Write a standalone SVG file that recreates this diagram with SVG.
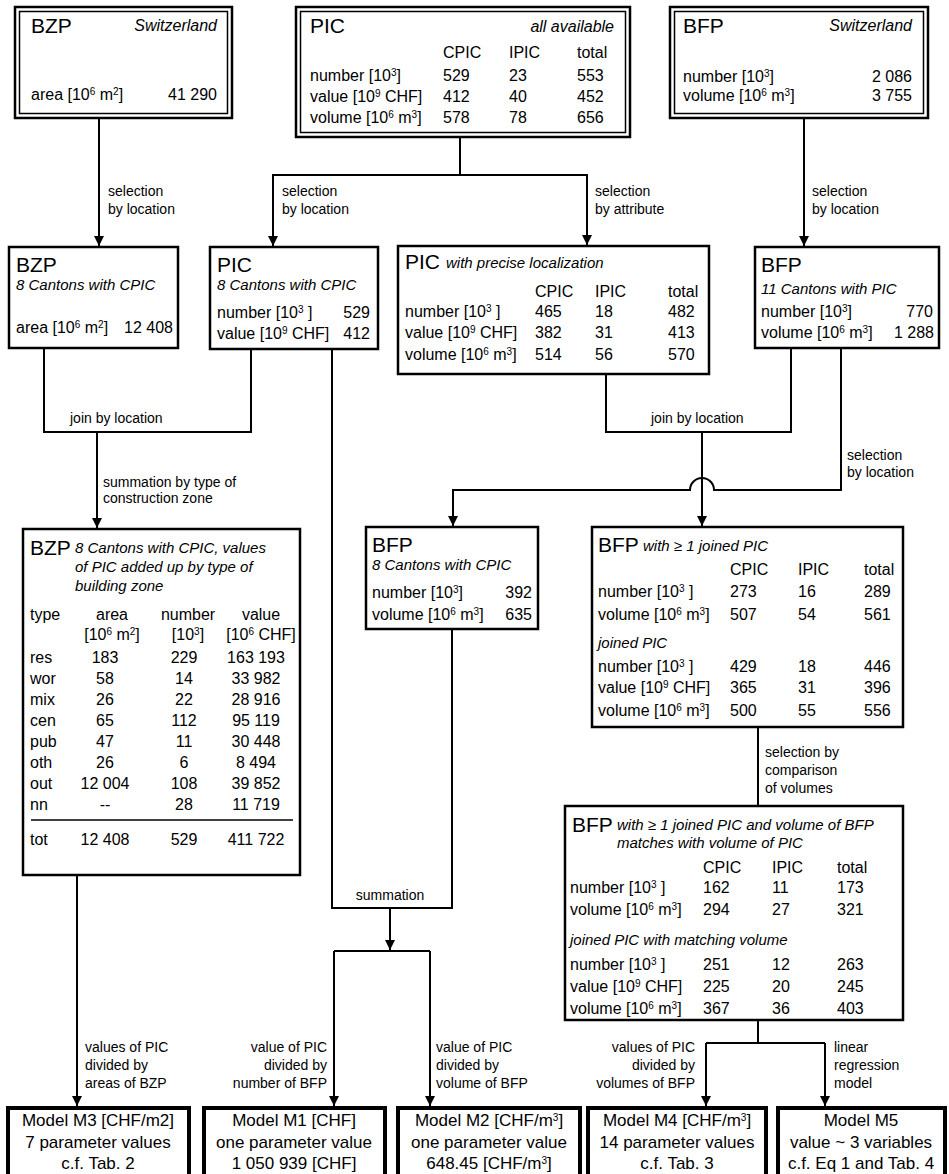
<svg xmlns="http://www.w3.org/2000/svg" width="949" height="1174" viewBox="0 0 949 1174">
<defs>
<style>
text{font-family:"Liberation Sans",Arial,sans-serif;fill:#000}
.b{font-size:16px}
.t{font-size:21px}
.i{font-size:15px;font-style:italic}
.i2{font-size:16px;font-style:italic}
.l{font-size:14px}
.m{font-size:17px;text-anchor:middle}
.e{text-anchor:end}
.c{text-anchor:middle}
.s{font-size:10px;baseline-shift:super}
.box{fill:#fff;stroke:#000;stroke-width:2.5}
.dbl{fill:none;stroke:#000;stroke-width:1.5}
.mb{fill:#fff;stroke:#000;stroke-width:4}
.w{fill:none;stroke:#000;stroke-width:2}
</style>
<marker id="ah" viewBox="0 0 10 10" refX="10" refY="5" markerWidth="10" markerHeight="10" markerUnits="userSpaceOnUse" orient="auto"><path d="M0,0 L10,5 L0,10 z" fill="#000"/></marker>
</defs>
<rect width="949" height="1174" fill="#fff"/>

<g id="connectors">
<path class="w" d="M99,118 V246" marker-end="url(#ah)"/>
<path class="w" d="M460,137 V175 H273 V246" marker-end="url(#ah)"/>
<path class="w" d="M460,175 H587 V245" marker-end="url(#ah)"/>
<path class="w" d="M804,118 V246" marker-end="url(#ah)"/>
<path class="w" d="M44,348 V432 H251 V349"/>
<path class="w" d="M97,432 V528" marker-end="url(#ah)"/>
<path class="w" d="M606,374 V432 H791 V348"/>
<path class="w" d="M702,432 V526" marker-end="url(#ah)"/>
<path class="w" d="M841,348 V490 H714 A12,12 0 0 0 690,490 H453 V526" marker-end="url(#ah)"/>
<path class="w" d="M332,349 V908 H452 V629"/>
<path class="w" d="M390,908 V950" marker-end="url(#ah)"/>
<path class="w" d="M334,951 H430"/>
<path class="w" d="M334,951 V1106" marker-end="url(#ah)"/>
<path class="w" d="M430,951 V1106" marker-end="url(#ah)"/>
<path class="w" d="M77,875 V1106" marker-end="url(#ah)"/>
<path class="w" d="M758,727 V806"/>
<path class="w" d="M758,1020 V1043"/>
<path class="w" d="M706,1043 H825"/>
<path class="w" d="M706,1043 V1106" marker-end="url(#ah)"/>
<path class="w" d="M825,1043 V1106" marker-end="url(#ah)"/>

<text class="l" x="108" y="196">selection</text>
<text class="l" x="108" y="214">by location</text>
<text class="l" x="282" y="196">selection</text>
<text class="l" x="282" y="214">by location</text>
<text class="l" x="595" y="196">selection</text>
<text class="l" x="595" y="214">by attribute</text>
<text class="l" x="812" y="196">selection</text>
<text class="l" x="812" y="214">by location</text>
<text class="l" x="70" y="423">join by location</text>
<text class="l" x="651" y="423">join by location</text>
<text class="l" x="103" y="487">summation by type of</text>
<text class="l" x="103" y="503">construction zone</text>
<text class="l" x="847" y="460">selection</text>
<text class="l" x="847" y="477">by location</text>
<text class="l" x="765" y="757">selection by</text>
<text class="l" x="765" y="775">comparison</text>
<text class="l" x="765" y="793">of volumes</text>
<text class="l c" x="390" y="900">summation</text>
<text class="l" x="85" y="1052">values of PIC</text>
<text class="l" x="85" y="1070">divided by</text>
<text class="l" x="85" y="1088">areas of BZP</text>
<text class="l e" x="327" y="1052">value of PIC</text>
<text class="l e" x="327" y="1070">divided by</text>
<text class="l e" x="327" y="1088">number of BFP</text>
<text class="l" x="436" y="1052">value of PIC</text>
<text class="l" x="436" y="1070">divided by</text>
<text class="l" x="436" y="1088">volume of BFP</text>
<text class="l e" x="695" y="1052">values of PIC</text>
<text class="l e" x="695" y="1070">divided by</text>
<text class="l e" x="695" y="1088">volumes of BFP</text>
<text class="l" x="834" y="1052">linear</text>
<text class="l" x="834" y="1070">regression</text>
<text class="l" x="834" y="1088">model</text>
</g>

<g id="bzp-switzerland">
<rect class="box" x="15" y="7" width="217" height="111"/>
<rect class="dbl" x="19.5" y="11.5" width="208" height="102"/>
<text class="t" x="31" y="33">BZP</text>
<text class="i2 e" x="217" y="31">Switzerland</text>
<text class="b" x="31" y="100">area [10<tspan class="s">6</tspan> m<tspan class="s">2</tspan>]</text>
<text class="b e" x="217" y="100">41 290</text>
</g>

<g id="pic-all">
<rect class="box" x="296" y="7" width="334" height="130"/>
<rect class="dbl" x="300.5" y="11.5" width="325" height="121"/>
<text class="t" x="310" y="33">PIC</text>
<text class="i2 e" x="614" y="32">all available</text>
<text class="b" x="443" y="58">CPIC</text><text class="b" x="509" y="58">IPIC</text><text class="b" x="577" y="58">total</text>
<text class="b" x="310" y="81">number [10<tspan class="s">3</tspan>]</text>
<text class="b" x="443" y="81">529</text><text class="b" x="509" y="81">23</text><text class="b" x="577" y="81">553</text>
<text class="b" x="310" y="102">value [10<tspan class="s">9</tspan> CHF]</text>
<text class="b" x="443" y="102">412</text><text class="b" x="509" y="102">40</text><text class="b" x="577" y="102">452</text>
<text class="b" x="310" y="123">volume [10<tspan class="s">6</tspan> m<tspan class="s">3</tspan>]</text>
<text class="b" x="443" y="123">578</text><text class="b" x="509" y="123">78</text><text class="b" x="577" y="123">656</text>
</g>

<g id="bfp-switzerland">
<rect class="box" x="670" y="7" width="258" height="111"/>
<rect class="dbl" x="674.5" y="11.5" width="249" height="102"/>
<text class="t" x="683" y="33">BFP</text>
<text class="i2 e" x="912" y="31">Switzerland</text>
<text class="b" x="683" y="82">number [10<tspan class="s">3</tspan>]</text>
<text class="b e" x="912" y="82">2 086</text>
<text class="b" x="683" y="101">volume [10<tspan class="s">6</tspan> m<tspan class="s">3</tspan>]</text>
<text class="b e" x="912" y="101">3 755</text>
</g>

<g id="bzp-8cantons">
<rect class="box" x="9" y="247" width="169" height="101"/>
<text class="t" x="16" y="272">BZP</text>
<text class="i" x="16" y="290">8 Cantons with  CPIC</text>
<text class="b" x="16" y="333">area [10<tspan class="s">6</tspan> m<tspan class="s">2</tspan>]</text>
<text class="b e" x="173" y="333">12 408</text>
</g>

<g id="pic-8cantons">
<rect class="box" x="210" y="247" width="168" height="102"/>
<text class="t" x="217" y="272">PIC</text>
<text class="i" x="217" y="290">8 Cantons with  CPIC</text>
<text class="b" x="217" y="318">number [10<tspan class="s">3</tspan> ]</text>
<text class="b e" x="370" y="318">529</text>
<text class="b" x="217" y="339">value [10<tspan class="s">9</tspan> CHF]</text>
<text class="b e" x="370" y="339">412</text>
</g>

<g id="pic-precise">
<rect class="box" x="398" y="246" width="311" height="128"/>
<text class="t" x="405" y="269">PIC</text>
<text class="i" x="446" y="268">with precise  localization</text>
<text class="b" x="535" y="297">CPIC</text><text class="b" x="595" y="297">IPIC</text><text class="b" x="668" y="297">total</text>
<text class="b" x="405" y="317">number [10<tspan class="s">3</tspan> ]</text>
<text class="b" x="535" y="317">465</text><text class="b" x="595" y="317">18</text><text class="b" x="668" y="317">482</text>
<text class="b" x="405" y="338">value [10<tspan class="s">9</tspan> CHF]</text>
<text class="b" x="535" y="338">382</text><text class="b" x="595" y="338">31</text><text class="b" x="668" y="338">413</text>
<text class="b" x="405" y="360">volume [10<tspan class="s">6</tspan> m<tspan class="s">3</tspan>]</text>
<text class="b" x="535" y="360">514</text><text class="b" x="595" y="360">56</text><text class="b" x="668" y="360">570</text>
</g>

<g id="bfp-11cantons">
<rect class="box" x="755" y="247" width="184" height="101"/>
<text class="t" x="761" y="272">BFP</text>
<text class="i" x="761" y="294">11 Cantons with PIC</text>
<text class="b" x="761" y="317">number [10<tspan class="s">3</tspan>]</text>
<text class="b e" x="933" y="317">770</text>
<text class="b" x="761" y="338">volume [10<tspan class="s">6</tspan> m<tspan class="s">3</tspan>]</text>
<text class="b e" x="934" y="338">1 288</text>
</g>

<g id="bzp-by-type">
<rect class="box" x="23" y="529" width="277" height="346"/>
<text class="t" x="30" y="555">BZP</text>
<text class="i" x="75" y="553">8 Cantons with  CPIC, values</text>
<text class="i" x="75" y="572">of PIC added up by type of</text>
<text class="i" x="75" y="591">building zone</text>
<text class="b" x="30" y="620">type</text>
<text class="b c" x="112" y="620">area</text>
<text class="b c" x="188" y="620">number</text>
<text class="b c" x="261" y="620">value</text>
<text class="b c" x="112" y="640">[10<tspan class="s">6</tspan> m<tspan class="s">2</tspan>]</text>
<text class="b c" x="188" y="640">[10<tspan class="s">3</tspan>]</text>
<text class="b c" x="261" y="640">[10<tspan class="s">6</tspan> CHF]</text>
<g class="b">
<text class="b" x="30" y="663">res</text><text class="b c" x="105" y="663">183</text><text class="b c" x="184" y="663">229</text><text class="b c" x="256" y="663">163 193</text>
<text class="b" x="30" y="684">wor</text><text class="b c" x="105" y="684">58</text><text class="b c" x="184" y="684">14</text><text class="b c" x="256" y="684">33 982</text>
<text class="b" x="30" y="705">mix</text><text class="b c" x="105" y="705">26</text><text class="b c" x="184" y="705">22</text><text class="b c" x="256" y="705">28 916</text>
<text class="b" x="30" y="726">cen</text><text class="b c" x="105" y="726">65</text><text class="b c" x="184" y="726">112</text><text class="b c" x="256" y="726">95 119</text>
<text class="b" x="30" y="747">pub</text><text class="b c" x="105" y="747">47</text><text class="b c" x="184" y="747">11</text><text class="b c" x="256" y="747">30 448</text>
<text class="b" x="30" y="768">oth</text><text class="b c" x="105" y="768">26</text><text class="b c" x="184" y="768">6</text><text class="b c" x="256" y="768">8 494</text>
<text class="b" x="30" y="789">out</text><text class="b c" x="105" y="789">12 004</text><text class="b c" x="184" y="789">108</text><text class="b c" x="256" y="789">39 852</text>
<text class="b" x="30" y="810">nn</text><text class="b c" x="105" y="810">--</text><text class="b c" x="184" y="810">28</text><text class="b c" x="256" y="810">11 719</text>
</g>
<line x1="31" y1="820" x2="293" y2="820" stroke="#000" stroke-width="1.5"/>
<text class="b" x="30" y="845">tot</text><text class="b c" x="105" y="845">12 408</text><text class="b c" x="184" y="845">529</text><text class="b c" x="256" y="845">411 722</text>
</g>

<g id="bfp-8cantons">
<rect class="box" x="366" y="527" width="172" height="102"/>
<text class="t" x="372" y="552">BFP</text>
<text class="i" x="372" y="570">8 Cantons with  CPIC</text>
<text class="b" x="372" y="598">number [10<tspan class="s">3</tspan>]</text>
<text class="b e" x="532" y="598">392</text>
<text class="b" x="372" y="620">volume [10<tspan class="s">6</tspan> m<tspan class="s">3</tspan>]</text>
<text class="b e" x="532" y="620">635</text>
</g>

<g id="bfp-joined">
<rect class="box" x="592" y="527" width="311" height="200"/>
<text class="t" x="598" y="552">BFP</text>
<text class="i" x="643" y="551">with ≥ 1 joined PIC</text>
<text class="b" x="730" y="575">CPIC</text><text class="b" x="798" y="575">IPIC</text><text class="b" x="864" y="575">total</text>
<text class="b" x="598" y="597">number [10<tspan class="s">3</tspan> ]</text>
<text class="b" x="730" y="597">273</text><text class="b" x="798" y="597">16</text><text class="b" x="864" y="597">289</text>
<text class="b" x="598" y="620">volume [10<tspan class="s">6</tspan> m<tspan class="s">3</tspan>]</text>
<text class="b" x="730" y="620">507</text><text class="b" x="798" y="620">54</text><text class="b" x="864" y="620">561</text>
<text class="i" x="598" y="648">joined PIC</text>
<text class="b" x="598" y="672">number [10<tspan class="s">3</tspan> ]</text>
<text class="b" x="730" y="672">429</text><text class="b" x="798" y="672">18</text><text class="b" x="864" y="672">446</text>
<text class="b" x="598" y="693">value [10<tspan class="s">9</tspan> CHF]</text>
<text class="b" x="730" y="693">365</text><text class="b" x="798" y="693">31</text><text class="b" x="864" y="693">396</text>
<text class="b" x="598" y="716">volume [10<tspan class="s">6</tspan> m<tspan class="s">3</tspan>]</text>
<text class="b" x="730" y="716">500</text><text class="b" x="798" y="716">55</text><text class="b" x="864" y="716">556</text>
</g>

<g id="bfp-matching">
<rect class="box" x="565" y="806" width="338" height="214"/>
<text class="t" x="572" y="832">BFP</text>
<text class="i" x="617" y="830">with ≥ 1 joined PIC and volume of BFP</text>
<text class="i" x="617" y="848">matches  with volume of PIC</text>
<text class="b" x="703" y="873">CPIC</text><text class="b" x="772" y="873">IPIC</text><text class="b" x="837" y="873">total</text>
<text class="b" x="570" y="893">number [10<tspan class="s">3</tspan> ]</text>
<text class="b" x="703" y="893">162</text><text class="b" x="772" y="893">11</text><text class="b" x="837" y="893">173</text>
<text class="b" x="570" y="915">volume [10<tspan class="s">6</tspan> m<tspan class="s">3</tspan>]</text>
<text class="b" x="703" y="915">294</text><text class="b" x="772" y="915">27</text><text class="b" x="837" y="915">321</text>
<text class="i" x="570" y="945">joined PIC with matching volume</text>
<text class="b" x="570" y="970">number [10<tspan class="s">3</tspan> ]</text>
<text class="b" x="703" y="970">251</text><text class="b" x="772" y="970">12</text><text class="b" x="837" y="970">263</text>
<text class="b" x="570" y="992">value [10<tspan class="s">9</tspan> CHF]</text>
<text class="b" x="703" y="992">225</text><text class="b" x="772" y="992">20</text><text class="b" x="837" y="992">245</text>
<text class="b" x="570" y="1014">volume [10<tspan class="s">6</tspan> m<tspan class="s">3</tspan>]</text>
<text class="b" x="703" y="1014">367</text><text class="b" x="772" y="1014">36</text><text class="b" x="837" y="1014">403</text>
</g>

<g id="model-m3">
<rect class="mb" x="8" y="1108" width="181" height="72"/>
<text class="m" x="98" y="1126">Model M3 [CHF/m2]</text>
<text class="m" x="98" y="1148">7 parameter values</text>
<text class="m" x="98" y="1169">c.f. Tab. 2</text>
</g>
<g id="model-m1">
<rect class="mb" x="204" y="1108" width="181" height="72"/>
<text class="m" x="294" y="1126">Model M1 [CHF]</text>
<text class="m" x="294" y="1148">one parameter value</text>
<text class="m" x="294" y="1169">1 050 939 [CHF]</text>
</g>
<g id="model-m2">
<rect class="mb" x="398" y="1108" width="182" height="72"/>
<text class="m" x="489" y="1126">Model M2 [CHF/m<tspan class="s">3</tspan>]</text>
<text class="m" x="489" y="1148">one parameter value</text>
<text class="m" x="489" y="1169">648.45 [CHF/m<tspan class="s">3</tspan>]</text>
</g>
<g id="model-m4">
<rect class="mb" x="588" y="1108" width="178" height="72"/>
<text class="m" x="677" y="1126">Model M4 [CHF/m<tspan class="s">3</tspan>]</text>
<text class="m" x="677" y="1148">14 parameter values</text>
<text class="m" x="677" y="1169">c.f. Tab. 3</text>
</g>
<g id="model-m5">
<rect class="mb" x="778" y="1108" width="167" height="72"/>
<text class="m" x="861" y="1126">Model M5</text>
<text class="m" x="861" y="1148">value ~ 3 variables</text>
<text class="m" x="861" y="1169">c.f. Eq 1 and Tab. 4</text>
</g>
</svg>
